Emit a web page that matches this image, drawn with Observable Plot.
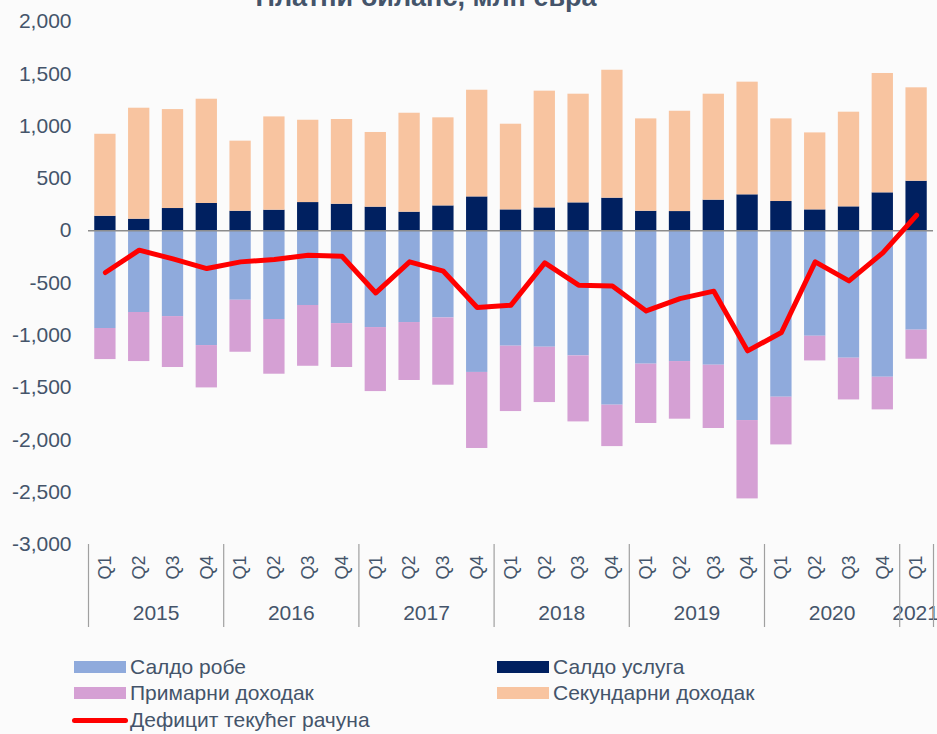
<!DOCTYPE html>
<html><head><meta charset="utf-8">
<script src="https://cdn.jsdelivr.net/npm/d3@7"></script>
<script src="https://cdn.jsdelivr.net/npm/@observablehq/plot@0.6"></script>
<style>
body{margin:0;background:#fbfbfb;font-family:"Liberation Sans",Arial,sans-serif;}
#wrap{position:relative;width:937px;height:734px;overflow:hidden;background:#fbfbfb;}
#title{position:absolute;left:0;width:852px;top:-16px;text-align:center;font-weight:bold;font-size:27px;line-height:27px;color:#44546A;}
#chart{position:absolute;left:0;top:0;}
.lg{position:absolute;font-size:21px;line-height:22px;color:#44546A;white-space:nowrap;}
.sw{position:absolute;}
</style></head><body>
<div id="wrap">
<div id="chart"></div>
<div id="title">Платни биланс, млн евра</div>
<div id="legend"></div>
</div>
<script>
const years = [2015, 2016, 2017, 2018, 2019, 2020, 2021];
const quarterLabels = ["Q1","Q2","Q3","Q4"];
const periods = [];
years.forEach(y => quarterLabels.forEach(q => { if (y < 2021 || q === "Q1") periods.push(y + " " + q); }));

const seriesNames = ["Салдо робе", "Салдо услуга", "Примарни доходак", "Секундарни доходак"];
const seriesColors = ["#8faadc", "#002060", "#d5a0d4", "#f8c4a0"];
const lineName = "Дефицит текућег рачуна";
const lineColor = "#ff0000";

const goods = [-935,-782,-821,-1098,-665,-849,-715,-888,-926,-878,-834,-1355,-1104,-1114,-1197,-1668,-1276,-1251,-1286,-1815,-1592,-1009,-1219,-1401,-951];
const services = [138,110,212,260,186,196,269,253,225,177,237,323,199,218,266,311,186,183,292,343,279,199,228,362,473];
const primary = [-297,-469,-487,-405,-497,-523,-581,-420,-612,-554,-643,-727,-625,-529,-631,-396,-567,-551,-605,-749,-456,-236,-399,-312,-278];
const secondary = [784,1061,946,997,670,892,787,810,714,946,842,1020,819,1116,1039,1223,883,959,1013,1077,790,736,905,1141,893];
const deficit = [-400,-186,-270,-362,-298,-276,-234,-244,-595,-298,-387,-734,-712,-308,-521,-528,-767,-649,-578,-1149,-973,-298,-480,-212,148];

const yTicks = d3.range(-3000, 2001, 500);
const fmt = d => d3.format(",")(d).replace("−", "-");

const W = 937, H = 640, mL = 88, mR = 4, mT = 21, mB = 96;
const step = (W - mL - mR) / periods.length;
const inset = step * 0.185;

const rows = [];
periods.forEach((p, i) => {
  rows.push({p, s: seriesNames[0], v: goods[i]});
  rows.push({p, s: seriesNames[1], v: services[i]});
  rows.push({p, s: seriesNames[2], v: primary[i]});
  rows.push({p, s: seriesNames[3], v: secondary[i]});
});
const lineData = periods.map((p, i) => ({p, v: deficit[i]}));
const fullYears = years.filter(y => y < 2021).map(y => ({y, key: y + " Q2"}));
const partYears = [{y: 2021, key: "2021 Q1"}];
const sepLeft = years.map(y => y + " Q1");
const sepRight = [periods[periods.length - 1]];

const plot = Plot.plot({
  width: W, height: H,
  marginLeft: mL, marginRight: mR, marginTop: mT, marginBottom: mB,
  style: {background: "transparent", fontFamily: "'Liberation Sans', Arial, sans-serif", color: "#44546A"},
  x: {type: "band", domain: periods, padding: 0, round: false, axis: null},
  y: {domain: [-3000, 2000], axis: null},
  color: {domain: seriesNames, range: seriesColors},
  marks: [
    Plot.axisY({ticks: yTicks, tickSize: 0, tickPadding: 17, tickFormat: fmt, fontSize: 21, fill: "#44546A", label: null}),
    Plot.barY(rows, Plot.stackY({x: "p", y: "v", fill: "s", order: null, insetLeft: inset, insetRight: inset})),
    Plot.ruleY([0], {stroke: "#8c8c8c", strokeWidth: 1.5}),
    Plot.line(lineData, {x: "p", y: "v", stroke: lineColor, strokeWidth: 5, strokeLinejoin: "round"}),
    Plot.text(periods, {x: d => d, text: d => d.split(" ")[1], frameAnchor: "bottom", dy: 23, rotate: -90, textAnchor: "middle", lineAnchor: "middle", fontSize: 18, fill: "#44546A"}),
    Plot.text(fullYears, {x: "key", dx: step / 2, text: d => String(d.y), frameAnchor: "bottom", dy: 69, textAnchor: "middle", lineAnchor: "middle", fontSize: 21, fill: "#44546A"}),
    Plot.text(partYears, {x: "key", dx: -1, text: d => String(d.y), frameAnchor: "bottom", dy: 69, textAnchor: "middle", lineAnchor: "middle", fontSize: 21, fill: "#44546A"}),
    Plot.ruleX(sepLeft, {x: d => d, dx: -step / 2, insetTop: H - mT - mB, insetBottom: -83, stroke: "#a0a0a0", strokeWidth: 1.2}),
    Plot.ruleX(sepRight, {x: d => d, dx: step / 2, insetTop: H - mT - mB, insetBottom: -83, stroke: "#a0a0a0", strokeWidth: 1.2})
  ]
});
document.getElementById("chart").appendChild(plot);

// legend
const legend = document.getElementById("legend");
const items = [
  {name: seriesNames[0], color: seriesColors[0], col: 0, row: 0},
  {name: seriesNames[1], color: seriesColors[1], col: 1, row: 0},
  {name: seriesNames[2], color: seriesColors[2], col: 0, row: 1},
  {name: seriesNames[3], color: seriesColors[3], col: 1, row: 1},
  {name: lineName, color: lineColor, col: 0, row: 2, line: true}
];
const colX = [74, 497], rowY = [667, 693, 720];
items.forEach(it => {
  const sw = document.createElement("div");
  sw.className = "sw";
  const h = it.line ? 5 : 12;
  sw.style.left = (it.line ? colX[it.col] - 2 : colX[it.col]) + "px";
  sw.style.width = (it.line ? 56 : 52) + "px";
  sw.style.height = h + "px";
  sw.style.top = (rowY[it.row] - h / 2) + "px";
  sw.style.background = it.color;
  if (it.line) sw.style.borderRadius = "3px";
  legend.appendChild(sw);
  const t = document.createElement("div");
  t.className = "lg";
  t.textContent = it.name;
  t.style.left = (colX[it.col] + 56) + "px";
  t.style.top = (rowY[it.row] - 11) + "px";
  legend.appendChild(t);
});
</script>
</body></html>
